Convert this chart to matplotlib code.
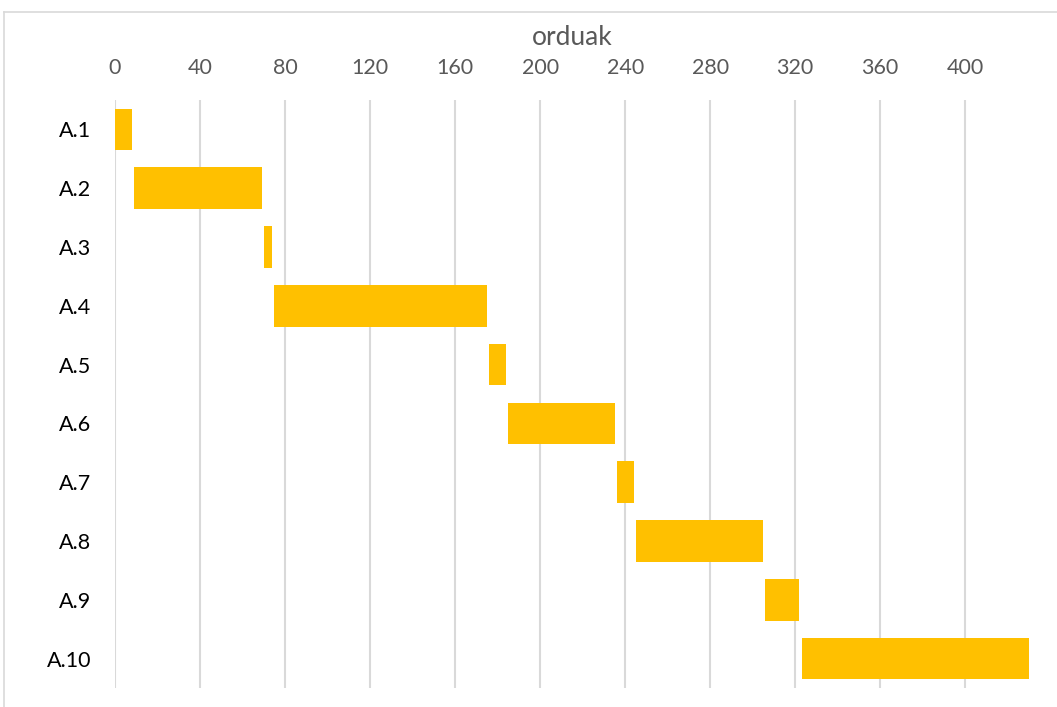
import matplotlib
matplotlib.use("Agg")
import matplotlib.pyplot as plt
from matplotlib.lines import Line2D

# Task schedule (hours)
tasks = ["A.1", "A.2", "A.3", "A.4", "A.5", "A.6", "A.7", "A.8", "A.9", "A.10"]
start = [0, 9, 70, 75, 176, 185, 236, 245, 306, 323]
duration = [8, 60, 4, 100, 8, 50, 8, 60, 16, 107]
xticks = [0, 40, 80, 120, 160, 200, 240, 280, 320, 360, 400]

plt.rcParams["font.family"] = ["Lato", "DejaVu Sans"]

W, H = 1057, 707
fig = plt.figure(figsize=(W / 100, H / 100), dpi=100)
fig.patch.set_facecolor("white")

# outer chart border
for xs, ys in (([4 / W, 1], [1 - 12 / H, 1 - 12 / H]), ([4 / W, 4 / W], [0, 1 - 12 / H])):
    fig.add_artist(Line2D(xs, ys, transform=fig.transFigure, color="#d9d9d9", lw=1.2))

left, right, top, bottom = 115, 1029, 100, 688
ax = fig.add_axes([left / W, 1 - bottom / H, (right - left) / W, (bottom - top) / H])

ypos = list(range(len(tasks)))
ax.barh(ypos, duration, left=start, height=0.71, color="#FFC000", zorder=3)

ax.set_xlim(0, 430)
ax.set_ylim(len(tasks) - 0.5, -0.5)
ax.set_xticks(xticks)
ax.set_yticks(ypos)
ax.set_yticklabels(tasks)
ax.xaxis.tick_top()
ax.xaxis.set_label_position("top")
ax.set_xlabel("orduak", fontsize=19, color="#595959", labelpad=9.5)

ax.tick_params(axis="x", length=0, pad=15.5, labelsize=15.5, labelcolor="#595959")
ax.tick_params(axis="y", length=0, pad=17, labelsize=15.5, labelcolor="#000000")

ax.grid(axis="x", color="#d9d9d9", lw=1.5, zorder=0)
ax.set_axisbelow(True)
for s in ax.spines.values():
    s.set_visible(False)

fig.savefig("out.png", dpi=100)
